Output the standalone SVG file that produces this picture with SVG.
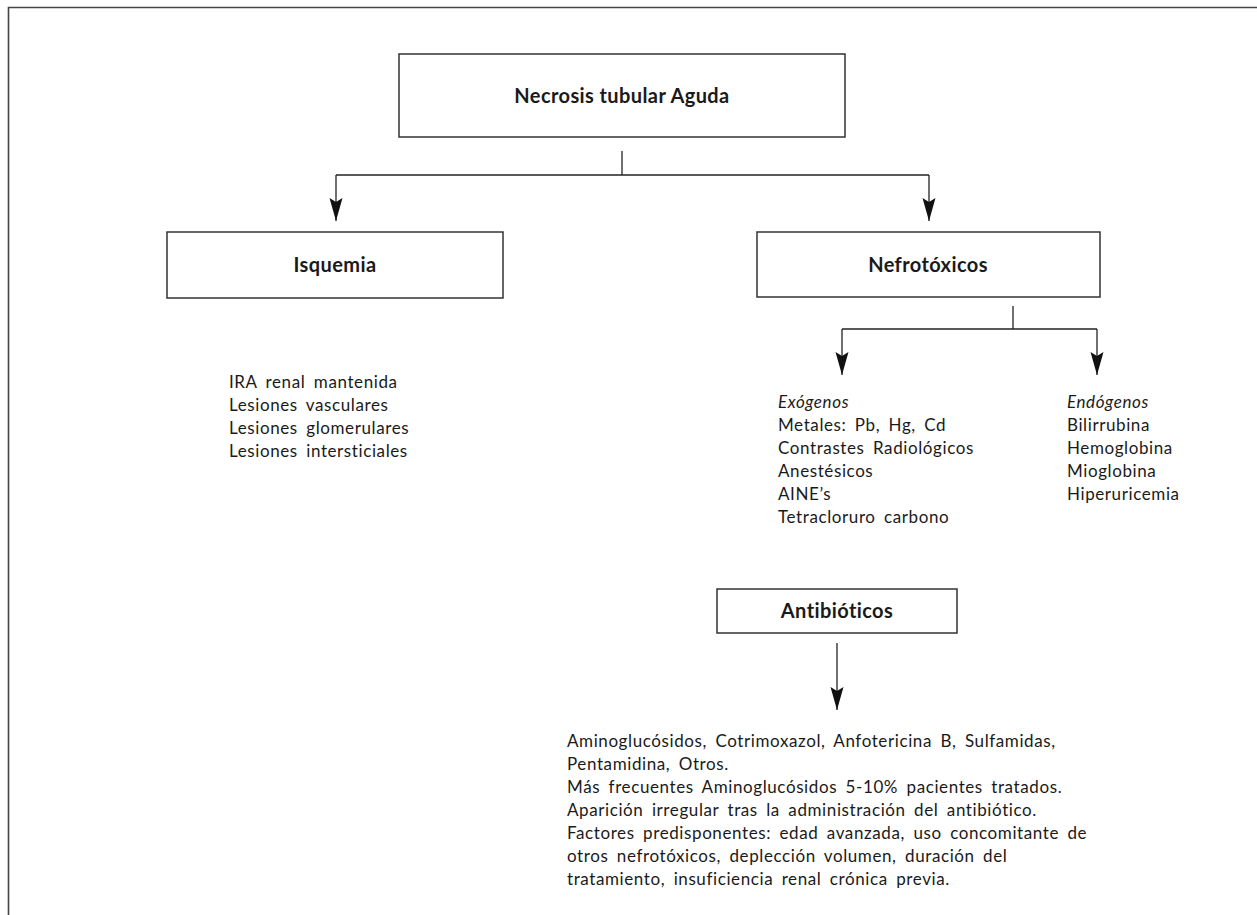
<svg xmlns="http://www.w3.org/2000/svg" width="1257" height="915" viewBox="0 0 1257 915">
  <style>
    .frame { fill: none; stroke: #444; stroke-width: 1.6; }
    .box { fill: #fff; stroke: #333; stroke-width: 1.5; }
    .title { font-family: Lato, "Liberation Sans", sans-serif; font-weight: bold; font-size: 20px; letter-spacing: 0.4px; fill: #1a1a1a; text-anchor: middle; }
    .body { font-family: Lato, "Liberation Sans", sans-serif; font-size: 17px; letter-spacing: 0.6px; word-spacing: 3.5px; fill: #1a1a1a; }
    .it { font-style: italic; }
    .wire { fill: none; stroke: #222; stroke-width: 1.3; }
  </style>
  <defs>
    <marker id="arrowDown" markerUnits="userSpaceOnUse" markerWidth="14" markerHeight="24" viewBox="0 0 14 24" refX="7" refY="23" orient="0">
      <path d="M0.5,0 L7,4 L13.5,0 L7,23 Z" fill="#111"/>
    </marker>
  </defs>

  <!-- page frame: top and left rule -->
  <path class="frame" d="M8.5,915 V7.5 H1257"/>

  <!-- connectors -->
  <g id="connectors">
    <path class="wire" d="M622,151 V175"/>
    <path class="wire" d="M336,175 H929"/>
    <path class="wire" d="M336,175 V221" marker-end="url(#arrowDown)"/>
    <path class="wire" d="M929,175 V221" marker-end="url(#arrowDown)"/>
    <path class="wire" d="M1013,306 V329"/>
    <path class="wire" d="M842,329 H1097"/>
    <path class="wire" d="M842,329 V375" marker-end="url(#arrowDown)"/>
    <path class="wire" d="M1097,329 V375" marker-end="url(#arrowDown)"/>
    <path class="wire" d="M837,643 V710" marker-end="url(#arrowDown)"/>
  </g>

  <g id="node-necrosis">
    <rect class="box" x="399" y="54" width="446" height="83"/>
    <text class="title" x="622" y="103">Necrosis tubular Aguda</text>
  </g>

  <g id="node-isquemia">
    <rect class="box" x="167" y="232" width="336" height="66"/>
    <text class="title" x="335" y="272">Isquemia</text>
  </g>

  <g id="node-nefrotoxicos">
    <rect class="box" x="757" y="232" width="343" height="65"/>
    <text class="title" x="928" y="272">Nefrotóxicos</text>
  </g>

  <g id="list-isquemia">
    <text class="body" x="229" y="388">IRA renal mantenida</text>
    <text class="body" x="229" y="411">Lesiones vasculares</text>
    <text class="body" x="229" y="434">Lesiones glomerulares</text>
    <text class="body" x="229" y="457">Lesiones intersticiales</text>
  </g>

  <g id="list-exogenos">
    <text class="body it" x="778" y="408">Exógenos</text>
    <text class="body" x="778" y="431">Metales: Pb, Hg, Cd</text>
    <text class="body" x="778" y="454">Contrastes Radiológicos</text>
    <text class="body" x="778" y="477">Anestésicos</text>
    <text class="body" x="778" y="500">AINE’s</text>
    <text class="body" x="778" y="523">Tetracloruro carbono</text>
  </g>

  <g id="list-endogenos">
    <text class="body it" x="1067" y="408">Endógenos</text>
    <text class="body" x="1067" y="431">Bilirrubina</text>
    <text class="body" x="1067" y="454">Hemoglobina</text>
    <text class="body" x="1067" y="477">Mioglobina</text>
    <text class="body" x="1067" y="500">Hiperuricemia</text>
  </g>

  <g id="node-antibioticos">
    <rect class="box" x="717" y="589" width="240" height="44"/>
    <text class="title" x="837" y="618">Antibióticos</text>
  </g>

  <g id="notes-antibioticos">
    <text class="body" x="567" y="747">Aminoglucósidos, Cotrimoxazol, Anfotericina B, Sulfamidas,</text>
    <text class="body" x="567" y="770">Pentamidina, Otros.</text>
    <text class="body" x="567" y="793">Más frecuentes Aminoglucósidos 5-10% pacientes tratados.</text>
    <text class="body" x="567" y="816">Aparición irregular tras la administración del antibiótico.</text>
    <text class="body" x="567" y="839">Factores predisponentes: edad avanzada, uso concomitante de</text>
    <text class="body" x="567" y="862">otros nefrotóxicos, deplección volumen, duración del</text>
    <text class="body" x="567" y="885">tratamiento, insuficiencia renal crónica previa.</text>
  </g>
</svg>
